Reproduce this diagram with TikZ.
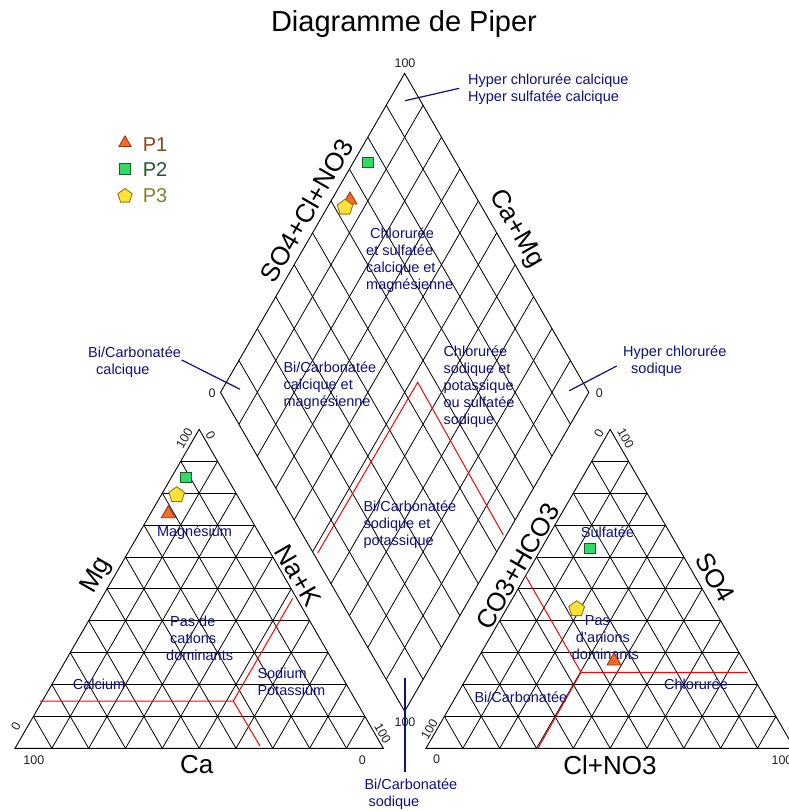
\documentclass[tikz,border=0pt]{standalone}
\usepackage{fontspec}
\setmainfont{Liberation Sans}
\usetikzlibrary{calc,shapes.geometric}
\definecolor{lblblue}{RGB}{15,15,130}
\definecolor{numgray}{RGB}{35,35,35}
\definecolor{ptaF}{RGB}{255,105,40}
\definecolor{ptaD}{RGB}{140,60,20}
\definecolor{ptbF}{RGB}{50,220,100}
\definecolor{ptbD}{RGB}{25,90,45}
\definecolor{ptcF}{RGB}{255,225,55}
\definecolor{ptcD}{RGB}{140,120,25}
\definecolor{legA}{RGB}{140,70,25}
\definecolor{legB}{RGB}{25,90,45}
\definecolor{legC}{RGB}{140,125,40}
\newcommand\zlines[1]{\begin{tabular}[t]{@{}l@{}}#1\end{tabular}}
\begin{document}
\begin{tikzpicture}[x=1pt,y=-1pt,
  gridline/.style={black, line width=0.8pt},
  frame/.style={black, line width=0.9pt, line join=miter},
  zone/.style={red, line width=1pt},
  pointer/.style={lblblue, line width=1.2pt},
  zlabel/.style={text=lblblue, inner sep=0pt, font=\fontsize{14.5}{17}\selectfont, anchor=base west},
  num/.style={text=numgray, inner sep=0pt, font=\fontsize{12.5}{14}\selectfont},
  axislbl/.style={inner sep=0pt, font=\fontsize{26}{30}\selectfont},
  legtxt/.style={inner sep=0pt, anchor=base west, font=\fontsize{20}{24}\selectfont},
  mtri/.style={regular polygon, regular polygon sides=3, minimum size=16pt, inner sep=0pt, fill=ptaF, draw=ptaD, line width=0.9pt},
  msq/.style={rectangle, minimum size=10.5pt, inner sep=0pt, fill=ptbF, draw=ptbD, line width=0.9pt},
  mpent/.style={regular polygon, regular polygon sides=5, minimum size=16.5pt, inner sep=0pt, fill=ptcF, draw=ptcD, line width=0.9pt},
]
\fill[white] (0,0) rectangle (788,811);
\useasboundingbox (0,0) rectangle (788,811);

% vertices
\coordinate (A) at (15,748.3);
\coordinate (B) at (383.3,748.3);
\coordinate (C) at (199.15,429.35);
\coordinate (D) at (426,748.3);
\coordinate (E) at (794.3,748.3);
\coordinate (F) at (610.15,429.35);
\coordinate (G) at (404.65,711.3);
\coordinate (H) at (220.5,392.35);
\coordinate (I) at (404.65,73.4);
\coordinate (J) at (588.8,392.35);

% grids
\foreach \k in {1,...,9}{
  \pgfmathsetmacro\t{\k/10}
  \draw[gridline] ($(A)!\t!(B)$) -- ($(A)!\t!(C)$);
  \draw[gridline] ($(A)!\t!(B)$) -- ($(C)!\t!(B)$);
  \draw[gridline] ($(A)!\t!(C)$) -- ($(B)!\t!(C)$);
  \draw[gridline] ($(D)!\t!(E)$) -- ($(D)!\t!(F)$);
  \draw[gridline] ($(D)!\t!(E)$) -- ($(F)!\t!(E)$);
  \draw[gridline] ($(D)!\t!(F)$) -- ($(E)!\t!(F)$);
  \draw[gridline] ($(G)!\t!(J)$) -- ($(H)!\t!(I)$);
  \draw[gridline] ($(G)!\t!(H)$) -- ($(J)!\t!(I)$);
}
\draw[frame] (A) -- (B) -- (C) -- cycle;
\draw[frame] (D) -- (E) -- (F) -- cycle;
\draw[frame] (G) -- (J) -- (I) -- (H) -- cycle;

% red zone lines
\coordinate (r1) at (40,701);
\coordinate (r2) at (233.3,701);
\coordinate (r3) at (292.7,598.3);
\coordinate (r4) at (260,746);
\draw[zone] (r1) -- (r2) -- (r3);
\draw[zone] (r2) -- (r4);
\coordinate (s1) at (747.7,672.3);
\coordinate (s2) at (581,672.3);
\coordinate (s3) at (526,576.7);
\coordinate (s4) at (538.3,747.7);
\draw[zone] (s1) -- (s2) -- (s3);
\draw[zone] (s2) -- (s4);
\coordinate (d1) at (317.7,553);
\coordinate (d2) at (417.7,382.3);
\coordinate (d3) at (503.3,535);
\draw[zone] (d1) -- (d2) -- (d3);

% pointers
\coordinate (pa1) at (405,100.7);
\coordinate (pa2) at (459.3,88.3);
\draw[pointer] (pa1) -- (pa2);
\coordinate (pb1) at (181.7,360);
\coordinate (pb2) at (240,389.3);
\draw[pointer] (pb1) -- (pb2);
\coordinate (pc1) at (569.3,390.7);
\coordinate (pc2) at (616.7,366);
\draw[pointer] (pc1) -- (pc2);
\coordinate (pd1) at (405,678);
\coordinate (pd2) at (405,772);
\draw[pointer] (pd1) -- (pd2);

% title
\node[inner sep=0pt, anchor=base, font=\fontsize{29}{34}\selectfont] (title) at (404,31.7) {Diagramme de Piper};

% axis labels
\node[axislbl] (axCa) at (196.7,764.5) {Ca};
\node[axislbl, rotate=60] (axMg) at (96.7,575.5) {Mg};
\node[axislbl, rotate=-60] (axNaK) at (298,575.5) {Na+K};
\node[axislbl] (axCl) at (610,765) {Cl+NO3};
\node[axislbl, rotate=60] (axCO3) at (517.5,566.5) {CO3+HCO3};
\node[axislbl, rotate=-60] (axSO4) at (715,577.5) {SO4};
\node[axislbl, rotate=60] (axSCN) at (306.5,210.5) {SO4+Cl+NO3};
\node[axislbl, rotate=-60] (axCaMg) at (516,229) {Ca+Mg};

% numbers
\node[num] (nA1) at (33.8,760) {100};
\node[num] (nB1) at (362.3,760) {0};
\node[num, rotate=60] (nA2) at (16,726) {0};
\node[num, rotate=60] (nC1) at (184.3,438.3) {100};
\node[num, rotate=-60] (nC2) at (210.7,435) {0};
\node[num, rotate=-60] (nB2) at (382.7,733.3) {100};
\node[num] (nD1) at (436.7,759.3) {0};
\node[num] (nE1) at (782,760) {100};
\node[num, rotate=60] (nD2) at (429.3,729.3) {100};
\node[num, rotate=60] (nF1) at (599,433.3) {0};
\node[num, rotate=-60] (nF2) at (625.7,438.3) {100};
\node[num, rotate=-60] (nE2) at (793,727) {0};
\node[num] (nI) at (405,62.7) {100};
\node[num] (nH) at (212,393) {0};
\node[num] (nJ) at (599.3,393.3) {0};
\node[num] (nG) at (405,721.7) {100};

% zone labels
\node[zlabel] (zHyC) at (468,84) {\zlines{Hyper chlorurée calcique\\Hyper sulfatée calcique}};
\node[zlabel] (zCSC) at (366,238) {\zlines{\hspace*{4pt}Chlorurée\\et sulfatée\\calcique et\\magnésienne}};
\node[zlabel] (zBCM) at (283.3,372) {\zlines{Bi/Carbonatée\\calcique et\\magnésienne}};
\node[zlabel] (zCSP) at (443.3,356) {\zlines{Chlorurée\\sodique et\\potassique\\ou sulfatée\\sodique}};
\node[zlabel] (zBSP) at (363.3,511.4) {\zlines{Bi/Carbonatée\\sodique et\\potassique}};
\node[zlabel] (zBC) at (88,357.7) {\zlines{Bi/Carbonatée\\\hspace*{8pt}calcique}};
\node[zlabel] (zHyS) at (623,356.4) {\zlines{Hyper chlorurée\\\hspace*{8pt}sodique}};
\node[zlabel] (zBS) at (364.3,789.7) {\zlines{Bi/Carbonatée\\\hspace*{4pt}sodique}};
\node[zlabel, anchor=base] (zMg) at (194.5,536) {Magnésium};
\node[zlabel] (zPC) at (166,626) {\zlines{\hspace*{4pt}Pas de\\\hspace*{4pt}cations\\dominants}};
\node[zlabel] (zCa) at (72.7,689.7) {Calcium};
\node[zlabel] (zNa) at (257.3,678.7) {\zlines{Sodium\\Potassium}};
\node[zlabel] (zSu) at (580.7,537.7) {Sulfatée};
\node[zlabel] (zPA) at (571.7,625.4) {\zlines{\hspace*{13pt}Pas\\\hspace*{4pt}d'anions\\dominants}};
\node[zlabel] (zCl) at (664,689.7) {Chlorurée};
\node[zlabel] (zBi) at (474.3,702) {Bi/Carbonatée};

% data points
\node[mtri] (p1d) at (350,200) {};
\node[msq] (p2d) at (367.7,162.3) {};
\node[mpent] (p3d) at (345,207.5) {};
\node[mtri] (p1l) at (168.3,513.7) {};
\node[msq] (p2l) at (185.7,477.3) {};
\node[mpent] (p3l) at (176.7,495) {};
\node[mtri] (p1r) at (614,661) {};
\node[msq] (p2r) at (590,548.3) {};
\node[mpent] (p3r) at (576.7,609) {};

% legend
\node[mtri, minimum size=14pt] (lg1) at (125,143) {};
\node[msq] (lg2) at (125,169) {};
\node[mpent, minimum size=15pt] (lg3) at (125,196) {};
\node[legtxt, text=legA] (lt1) at (142.7,151) {P1};
\node[legtxt, text=legB] (lt2) at (142.7,176.7) {P2};
\node[legtxt, text=legC] (lt3) at (142.7,202.7) {P3};
\end{tikzpicture}
\end{document}
